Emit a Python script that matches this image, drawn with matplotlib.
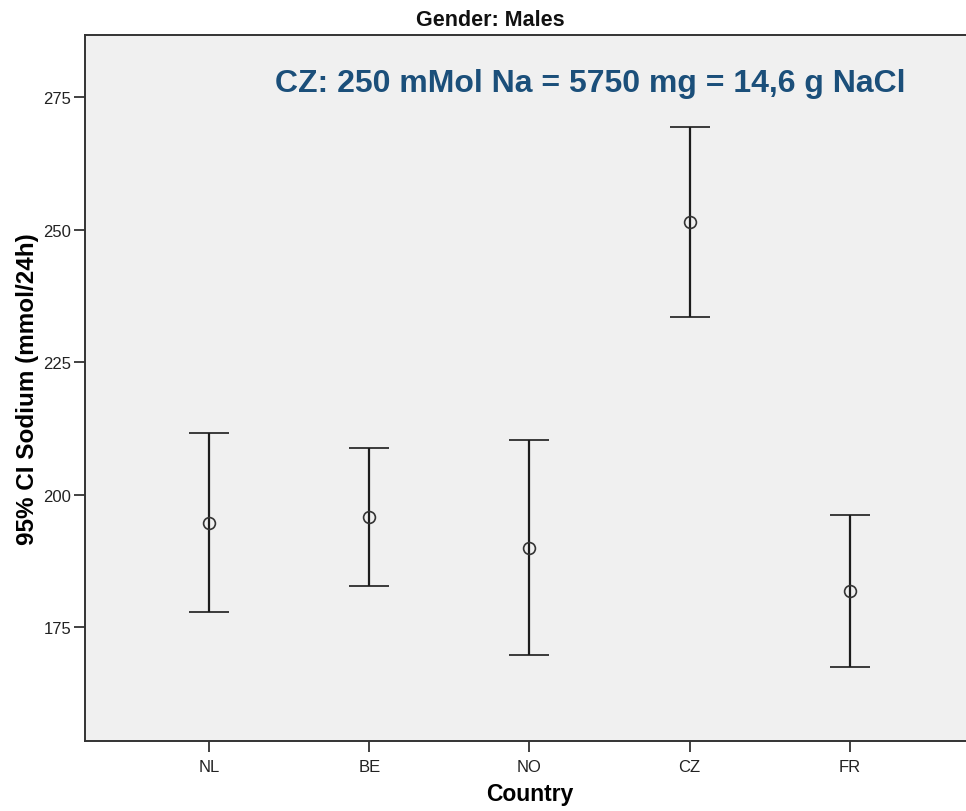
import matplotlib
matplotlib.use("Agg")
import matplotlib.pyplot as plt
import numpy as np

# ── data ───────────────────────────────────────────────────────────────────────
countries = ["NL", "BE", "NO", "CZ", "FR"]
means = [194.7, 195.9, 190.0, 251.4, 181.8]
ci_low = [178.0, 182.8, 169.8, 233.6, 167.6]
ci_high = [211.6, 208.9, 210.3, 269.3, 196.2]
y_ticks = [175, 200, 225, 250, 275]

plt.rcParams["font.family"] = ["Liberation Sans", "DejaVu Sans"]

C_LINE = "#1c1c1c"
C_NOTE = "#1b4f7a"

fig = plt.figure(figsize=(9.66, 8.12), dpi=100)
ax = fig.add_axes([85 / 966, 1 - 742 / 812, (974 - 85) / 966, (742 - 36) / 812])
ax.set_facecolor("#f0f0f0")

x = np.arange(len(countries))
m = np.array(means)
err = np.vstack([m - np.array(ci_low), np.array(ci_high) - m])
ax.errorbar(x, m, yerr=err, fmt="o", color=C_LINE, ecolor=C_LINE,
            elinewidth=1.6, capsize=14.5, capthick=1.9,
            markersize=8.5, markerfacecolor="none", markeredgewidth=1.2,
            markeredgecolor="#333333")

ax.set_xlim(-0.775, 4.775)
ax.set_ylim(153.6, 286.7)
ax.set_xticks(x)
ax.set_xticklabels(countries)
ax.set_yticks(y_ticks)
ax.tick_params(axis="both", direction="out", length=8, width=1.3,
               colors="#333333", labelsize=12, labelcolor="#222222")
ax.tick_params(axis="y", pad=2)
ax.tick_params(axis="x", pad=5)
for side in ["left", "bottom", "top", "right"]:
    ax.spines[side].set_color("#333333")
    ax.spines[side].set_linewidth(1.4)

ax.set_ylabel("95% CI Sodium (mmol/24h)", fontsize=17.5, fontweight="bold", labelpad=3)
ax.set_xlabel("Country", fontsize=16.5, fontweight="bold", labelpad=6)

fig.text(490 / 966, 1 - 20 / 812, "Gender: Males", ha="center", va="center",
         fontsize=15.5, fontweight="bold", color="#111111")
fig.text(275 / 966, 1 - 84 / 812, "CZ: 250 mMol Na = 5750 mg = 14,6 g NaCl",
         ha="left", va="center", fontsize=23, fontweight="bold", color=C_NOTE)

fig.savefig("out.png", dpi=100)
